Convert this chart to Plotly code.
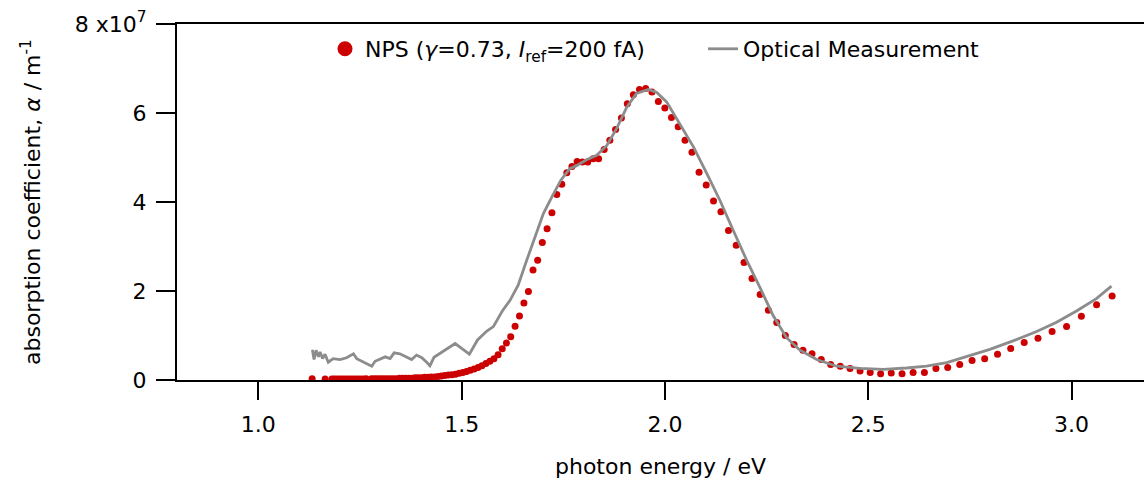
import plotly.graph_objects as go

# ---- NPS data (photon energy in eV, absorption coefficient in 1e7 m^-1) ----
nps_energy = [
    3.0996, 3.0614, 3.0240, 2.9876, 2.9520, 2.9173, 2.8834, 2.8502, 2.8178, 2.7862,
    2.7552, 2.7249, 2.6953, 2.6663, 2.6380, 2.6102, 2.5830, 2.5564, 2.5303, 2.5047,
    2.4797, 2.4551, 2.4311, 2.4075, 2.3843, 2.3616, 2.3393, 2.3175, 2.2960, 2.2749,
    2.2543, 2.2340, 2.2140, 2.1944, 2.1752, 2.1562, 2.1376, 2.1194, 2.1014, 2.0838,
    2.0664, 2.0493, 2.0325, 2.0160, 1.9997, 1.9837, 1.9680, 1.9525, 1.9373, 1.9222,
    1.9074, 1.8929, 1.8785, 1.8644, 1.8505, 1.8368, 1.8233, 1.8100, 1.7969, 1.7839,
    1.7712, 1.7586, 1.7463, 1.7340, 1.7220, 1.7101, 1.6984, 1.6869, 1.6755, 1.6642,
    1.6531, 1.6422, 1.6314, 1.6207, 1.6102, 1.5998, 1.5896, 1.5794, 1.5694, 1.5596,
    1.5498, 1.5402, 1.5307, 1.5213, 1.5120, 1.5028, 1.4938, 1.4848, 1.4760, 1.4673,
    1.4586, 1.4501, 1.4417, 1.4334, 1.4251, 1.4170, 1.4089, 1.4010, 1.3931, 1.3853,
    1.3776, 1.3700, 1.3625, 1.3550, 1.3477, 1.3404, 1.3332, 1.3260, 1.3190, 1.3120,
    1.3051, 1.2983, 1.2915, 1.2848, 1.2782, 1.2651, 1.2587, 1.2524, 1.2461,
    1.2398, 1.2337, 1.2276, 1.2215, 1.2155, 1.2096, 1.2037, 1.1979, 1.1922, 1.1865,
    1.1808, 1.1642, 1.1323,
]
nps_alpha = [
    1.89, 1.69, 1.43, 1.20, 1.09, 0.94, 0.84, 0.71, 0.58, 0.48,
    0.44, 0.35, 0.28, 0.26, 0.17, 0.17, 0.14, 0.16, 0.14, 0.17,
    0.20, 0.26, 0.31, 0.35, 0.46, 0.59, 0.67, 0.80, 1.00, 1.29,
    1.57, 1.92, 2.28, 2.64, 3.03, 3.36, 3.78, 4.02, 4.38, 4.67,
    5.12, 5.39, 5.69, 5.90, 6.11, 6.26, 6.47, 6.55, 6.53, 6.41,
    6.21, 5.89, 5.63, 5.39, 5.18, 4.97, 4.97, 4.90, 4.90, 4.91,
    4.80, 4.66, 4.40, 4.17, 3.76, 3.40, 3.09, 2.69, 2.47, 1.99,
    1.73, 1.44, 1.21, 0.97, 0.83, 0.70, 0.57, 0.48, 0.42, 0.37,
    0.32, 0.28, 0.25, 0.22, 0.19, 0.17, 0.15, 0.13, 0.12, 0.11,
    0.10, 0.09, 0.08, 0.07, 0.07, 0.06, 0.06, 0.05, 0.05, 0.05,
    0.04, 0.04, 0.04, 0.04, 0.04, 0.03, 0.03, 0.03, 0.03, 0.03,
    0.03, 0.03, 0.03, 0.03, 0.03, 0.03, 0.02, 0.02, 0.02,
    0.02, 0.02, 0.02, 0.02, 0.02, 0.02, 0.02, 0.02, 0.02, 0.02,
    0.02, 0.02, 0.03,
]

# ---- Optical measurement (photon energy in eV, absorption coefficient in 1e7 m^-1) ----
opt_energy = [
    1.133, 1.137, 1.142, 1.148, 1.152, 1.158, 1.164, 1.172, 1.184, 1.201,
    1.217, 1.234, 1.242, 1.258, 1.279, 1.287, 1.299, 1.312, 1.324, 1.334,
    1.348, 1.363, 1.377, 1.389, 1.402, 1.414, 1.422, 1.432, 1.447, 1.463,
    1.484, 1.500, 1.519, 1.539, 1.562, 1.578, 1.600, 1.619, 1.639, 1.660,
    1.680, 1.701, 1.721, 1.744, 1.766, 1.779, 1.807, 1.832, 1.857, 1.881,
    1.906, 1.930, 1.959, 1.980, 2.004, 2.037, 2.070, 2.103, 2.135, 2.168,
    2.201, 2.234, 2.266, 2.299, 2.332, 2.373, 2.422, 2.480, 2.537, 2.594,
    2.643, 2.693, 2.742, 2.799, 2.856, 2.914, 2.963, 3.012, 3.061, 3.098,
]
opt_alpha = [
    0.68, 0.46, 0.67, 0.52, 0.63, 0.48, 0.58, 0.40, 0.48, 0.46,
    0.50, 0.59, 0.48, 0.40, 0.31, 0.42, 0.46, 0.52, 0.48, 0.61,
    0.59, 0.53, 0.46, 0.56, 0.50, 0.40, 0.32, 0.51, 0.60, 0.70,
    0.82, 0.71, 0.58, 0.90, 1.10, 1.20, 1.55, 1.79, 2.13, 2.69,
    3.21, 3.74, 4.10, 4.49, 4.75, 4.80, 4.95, 5.05, 5.27, 5.65,
    6.13, 6.44, 6.53, 6.46, 6.25, 5.76, 5.24, 4.64, 4.04, 3.36,
    2.69, 2.07, 1.45, 0.95, 0.67, 0.46, 0.31, 0.26, 0.24, 0.27,
    0.31, 0.39, 0.53, 0.69, 0.88, 1.09, 1.30, 1.55, 1.83, 2.11,
]

scale = 1e7
y_tickvals = [0, 2, 4, 6, 8]
y_ticktext = ["0", "2", "4", "6", "8 x10<sup>7</sup>"]
x_tickvals = [1.0, 1.5, 2.0, 2.5, 3.0]
x_ticktext = ["1.0", "1.5", "2.0", "2.5", "3.0"]

RED = "rgb(204,0,0)"
GRAY = "rgb(140,140,140)"
FONT = "DejaVu Sans, Liberation Sans, Arial, sans-serif"
FS = 22

# plot-area geometry (pixels) used to place the legends in paper units
L, R, T, B = 177, 0, 24, 100
PW, PH = 1144 - L - R, 480 - T - B

fig = go.Figure()
fig.add_trace(go.Scatter(
    x=nps_energy, y=[v * scale for v in nps_alpha], mode="markers",
    marker=dict(color=RED, size=7, line=dict(width=0)), showlegend=False,
))
fig.add_trace(go.Scatter(
    x=opt_energy, y=[v * scale for v in opt_alpha], mode="lines",
    line=dict(color=GRAY, width=2.8), showlegend=False,
))
# legend entries
fig.add_trace(go.Scatter(
    x=[None], y=[None], mode="markers", marker=dict(color=RED, size=15),
    name="NPS (<i>γ</i>=0.73, <i>I</i><sub>ref</sub>=200 fA)", legend="legend",
))
fig.add_trace(go.Scatter(
    x=[None], y=[None], mode="lines", line=dict(color=GRAY, width=2.8),
    name="Optical Measurement", legend="legend2",
))

fig.update_layout(
    width=1144, height=480,
    margin=dict(l=L, r=R, t=T, b=B, pad=0, autoexpand=False),
    paper_bgcolor="white", plot_bgcolor="white",
    font=dict(family=FONT, size=FS, color="black"),
    legend=dict(
        x=(325 - L) / PW, y=1 - (49 - T) / PH,
        xanchor="left", yanchor="middle", orientation="h",
        bgcolor="rgba(0,0,0,0)", font=dict(size=FS), itemsizing="trace",
    ),
    legend2=dict(
        x=(703 - L) / PW, y=1 - (49 - T) / PH,
        xanchor="left", yanchor="middle", orientation="h",
        bgcolor="rgba(0,0,0,0)", font=dict(size=FS),
    ),
    xaxis=dict(
        range=[0.8, 3.178], tickvals=x_tickvals, ticktext=x_ticktext,
        ticks="outside", ticklen=18, tickwidth=1.5, tickcolor="black",
        showline=True, linewidth=2, linecolor="black", mirror=True,
        showgrid=False, zeroline=False, ticklabelstandoff=6,
    ),
    yaxis=dict(
        range=[0, 8 * scale], tickvals=[v * scale for v in y_tickvals], ticktext=y_ticktext,
        ticks="outside", ticklen=19, tickwidth=1.5, tickcolor="black",
        showline=True, linewidth=2, linecolor="black", mirror=False,
        showgrid=False, zeroline=False, ticklabelstandoff=5,
    ),
    annotations=[
        dict(text="photon energy / eV", xref="paper", yref="paper", x=0.5, y=0,
             xanchor="center", yanchor="middle", yshift=-86, showarrow=False,
             font=dict(size=FS)),
        dict(text="absorption coefficient, <i>α</i> / m<sup>-1</sup>", xref="paper", yref="paper",
             x=0, y=0.5, xanchor="center", yanchor="middle", xshift=-146, textangle=-90,
             showarrow=False, font=dict(size=FS)),
    ],
)

fig.write_html(
    "out.html",
    config={"displayModeBar": False},
    post_script="document.body.style.margin='0';",
)
